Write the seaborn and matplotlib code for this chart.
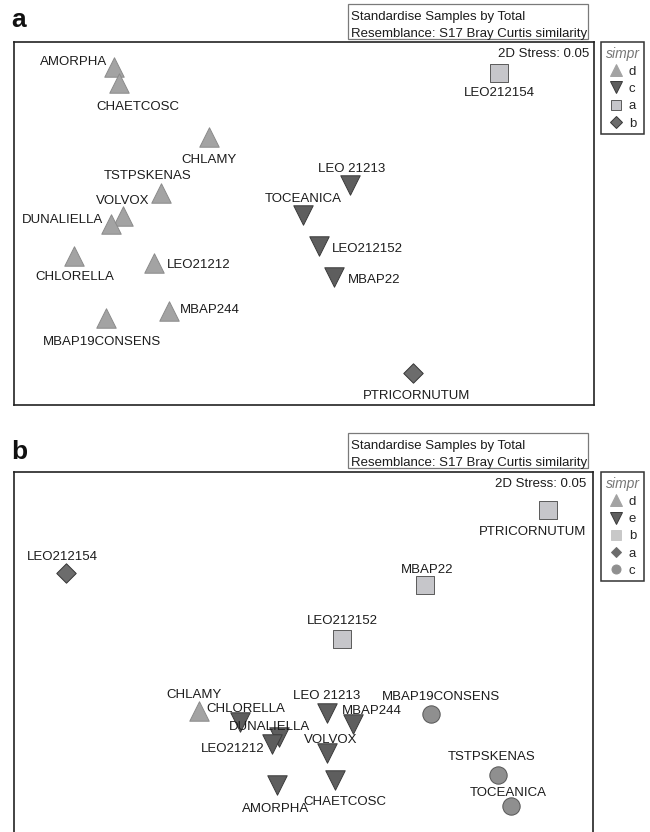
import matplotlib
matplotlib.use("Agg")
import matplotlib.pyplot as plt
from matplotlib.lines import Line2D
from matplotlib.patches import Rectangle
import pandas as pd
import seaborn as sns

# ---- nMDS ordination (a) ----
a_names = ["AMORPHA", "CHAETCOSC", "CHLAMY", "TSTPSKENAS", "VOLVOX", "DUNALIELLA",
           "CHLORELLA", "LEO21212", "MBAP244", "MBAP19CONSENS", "LEO 21213",
           "TOCEANICA", "LEO212152", "MBAP22", "LEO212154", "PTRICORNUTUM"]
a_mds1 = [-1.310, -1.276, -0.655, -0.986, -1.248, -1.331, -1.586, -1.034, -0.931,
          -1.366, 0.317, -0.007, 0.103, 0.207, 1.345, 0.752]
a_mds2 = [1.079, 0.969, 0.597, 0.210, 0.052, -0.003, -0.224, -0.272, -0.603,
          -0.652, 0.266, 0.059, -0.155, -0.369, 1.038, -1.031]
a_simpr = ["d", "d", "d", "d", "d", "d", "d", "d", "d", "d",
           "c", "c", "c", "c", "a", "b"]
a_legend_order = ["d", "c", "a", "b"]

# ---- nMDS ordination (b) ----
b_names = ["LEO212154", "PTRICORNUTUM", "MBAP22", "LEO212152", "CHLAMY", "CHLORELLA",
           "DUNALIELLA", "LEO21212", "AMORPHA", "LEO 21213", "MBAP244", "VOLVOX",
           "CHAETCOSC", "MBAP19CONSENS", "TSTPSKENAS", "TOCEANICA"]
b_mds1 = [-1.641, 1.690, 0.841, 0.269, -0.724, -0.441, -0.172, -0.221, -0.186,
          0.159, 0.345, 0.159, 0.221, 0.883, 1.345, 1.434]
b_mds2 = [0.572, 1.007, 0.490, 0.117, -0.379, -0.455, -0.559, -0.607, -0.890,
          -0.393, -0.469, -0.669, -0.855, -0.400, -0.821, -1.034]
b_simpr = ["a", "b", "b", "b", "d", "e", "e", "e", "e", "e", "e", "e", "e",
           "c", "c", "c"]
b_legend_order = ["d", "e", "b", "a", "c"]

header_lines = ["Standardise Samples by Total",
                "Resemblance: S17 Bray Curtis similarity"]
stress_text = "2D Stress: 0.05"

# symbol used for each SIMPROF group in each panel
a_shapes = {"d": "up", "c": "down", "a": "square", "b": "diamond"}
b_shapes = {"d": "up", "e": "down", "b": "square", "a": "diamond", "c": "circle"}

# marker, area, face, edge
SHAPE_STYLE = {
    "up":      ("^", 196, "#a3a3a3", "#8a8a8a"),
    "down":    ("v", 196, "#5e5e5e", "#3a3a3a"),
    "square":  ("s", 169, "#c6c6ca", "#5a5a5a"),
    "diamond": ("D", 98, "#6c6c6c", "#363636"),
    "circle":  ("o", 156, "#8f8f8f", "#555555"),
}
# legend swatch: markersize, draw edge
a_key_style = {"up": (8, False), "down": (8, True), "square": (7, True), "diamond": (6, True)}
b_key_style = {"up": (8, False), "down": (8, True), "square": (7, False),
               "diamond": (5.5, False), "circle": (6.5, False)}

# label placement relative to its symbol: dx, dy (pixels, up positive), alignment
a_label_pos = {
    "AMORPHA": (-7, 7, "right"), "CHAETCOSC": (19, -22, "center"),
    "CHLAMY": (0, -21, "center"), "TSTPSKENAS": (-13, 19, "center"),
    "VOLVOX": (0, 17, "center"), "DUNALIELLA": (-8, 6, "right"),
    "CHLORELLA": (1, -19, "center"), "LEO21212": (13, 0, "left"),
    "MBAP244": (11, 3, "left"), "MBAP19CONSENS": (-4, -22, "center"),
    "LEO 21213": (2, 18, "center"), "TOCEANICA": (0, 18, "center"),
    "LEO212152": (13, -1, "left"), "MBAP22": (14, -1, "left"),
    "LEO212154": (0, -18, "center"), "PTRICORNUTUM": (4, -21, "center"),
}
b_label_pos = {
    "LEO212154": (-4, 18, "center"), "PTRICORNUTUM": (-16, -20, "center"),
    "MBAP22": (2, 17, "center"), "LEO212152": (0, 20, "center"),
    "CHLAMY": (-5, 18, "center"), "CHLORELLA": (6, 15, "center"),
    "DUNALIELLA": (-9, 12, "center"), "LEO21212": (-7, -3, "right"),
    "AMORPHA": (-1, -22, "center"), "LEO 21213": (0, 19, "center"),
    "MBAP244": (18, 15, "center"), "VOLVOX": (4, 15, "center"),
    "CHAETCOSC": (9, -20, "center"), "MBAP19CONSENS": (10, 19, "center"),
    "TSTPSKENAS": (-7, 20, "center"), "TOCEANICA": (-3, 15, "center"),
}

sns.set_style("white")
plt.rcParams["font.family"] = ["Liberation Sans", "DejaVu Sans"]

W, H = 650, 832
fig = plt.figure(figsize=(W / 100, H / 100), dpi=100)


def fx(px):
    return px / W


def fy(py):
    return 1 - py / H


FS = 9.5
CAP_HALF = 4.7  # half cap height of the label font, pixels


def draw_panel(rect, names, mds1, mds2, simpr, shapes, label_pos, order, key_style,
               ylim, letter, letter_base, header_top, stress_off):
    left, top, right, bottom = rect
    ax = fig.add_axes([fx(left), fy(bottom), fx(right) - fx(left), (bottom - top) / H])
    df = pd.DataFrame({"sample": names, "MDS1": mds1, "MDS2": mds2, "simpr": simpr})
    df["shape"] = df["simpr"].map(shapes)

    for shape, sub in df.groupby("shape", sort=False):
        marker, area, face, edge = SHAPE_STYLE[shape]
        sns.scatterplot(data=sub, x="MDS1", y="MDS2", marker=marker, s=area,
                        color=face, edgecolor=edge, linewidth=0.7, ax=ax,
                        legend=False, zorder=2)

    for name, x, y in zip(df["sample"], df["MDS1"], df["MDS2"]):
        dx, dy, ha = label_pos[name]
        ax.annotate(name, (x, y), xytext=(dx, dy - CAP_HALF), textcoords="offset pixels",
                    ha=ha, va="baseline", fontsize=FS, color="#1c1c1c", zorder=3)

    ax.set_xlim(-2.0, 2.0)
    ax.set_ylim(*ylim)
    ax.set_xticks([])
    ax.set_yticks([])
    ax.set_xlabel("")
    ax.set_ylabel("")
    for sp in ax.spines.values():
        sp.set_visible(True)
        sp.set_color("#222222")
        sp.set_linewidth(1.2)

    ax.annotate(stress_text, (1, 1), xycoords="axes fraction",
                xytext=(stress_off[0], stress_off[1] - CAP_HALF), textcoords="offset pixels",
                ha="right", va="baseline", fontsize=FS, color="#1c1c1c")

    # group key
    handles = []
    for g in order:
        shape = shapes[g]
        marker, _, face, edge = SHAPE_STYLE[shape]
        ms, with_edge = key_style[shape]
        if shape == "square" and not with_edge:
            face = "#c8c8c8"
        handles.append(Line2D([], [], ls="none", marker=marker, markersize=ms,
                              markerfacecolor=face,
                              markeredgecolor=edge if with_edge else face,
                              markeredgewidth=0.7, label=g))
    leg = ax.legend(handles=handles, title="simpr", loc="upper left",
                    bbox_to_anchor=(fx(601), fy(top)), bbox_transform=fig.transFigure,
                    borderaxespad=0, frameon=True, fancybox=False, framealpha=1,
                    edgecolor="#333333", fontsize=FS, title_fontsize=FS,
                    handlelength=1.0, handletextpad=0.5, labelspacing=0.38,
                    borderpad=0.35)
    leg.get_frame().set_linewidth(1.1)
    leg.get_title().set_fontstyle("italic")
    leg.get_title().set_color("#777777")
    leg.get_title().set_fontsize(10)

    # data-treatment header
    fig.add_artist(Rectangle((fx(348), fy(header_top + 35)), fx(588) - fx(348), 35 / H,
                             transform=fig.transFigure, fill=False,
                             edgecolor="#7a7a7a", linewidth=0.9))
    for i, line in enumerate(header_lines):
        fig.text(fx(351), fy(header_top + 11 + 17 * i + CAP_HALF), line,
                 ha="left", va="baseline", fontsize=FS, color="#1c1c1c")

    fig.text(fx(11), fy(letter_base), letter, ha="left", va="baseline",
             fontsize=19, fontweight="bold", color="#111111")


draw_panel((14, 42, 594, 405), a_names, a_mds1, a_mds2, a_simpr, a_shapes,
           a_label_pos, a_legend_order, a_key_style, (-1.252, 1.252),
           "a", 27, 4, (-5, -10))
draw_panel((14, 472, 593, 840), b_names, b_mds1, b_mds2, b_simpr, b_shapes,
           b_label_pos, b_legend_order, b_key_style, (-1.269, 1.269),
           "b", 459, 433, (-7, -10))

fig.savefig("out.png", dpi=100)
